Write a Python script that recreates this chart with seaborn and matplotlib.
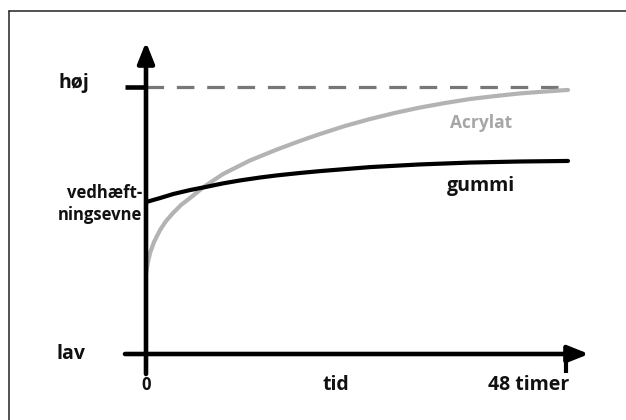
import numpy as np
import pandas as pd
import matplotlib
matplotlib.use("Agg")
import matplotlib.pyplot as plt
import seaborn as sns
from matplotlib.lines import Line2D

# adhesion over time, 0 = lav, 1 = høj
hours_acrylat = [0, 0.23, 0.46, 0.91, 1.6, 2.29, 3.09, 4.0, 5.03, 6.74, 8.8, 11.89, 14.97,
                 17.6, 19.89, 22.74, 25.6, 28.46, 31.31, 34.17, 37.03, 39.89, 42.74, 45.6, 48.23]
adh_acrylat = [0.30, 0.345, 0.378, 0.419, 0.464, 0.498, 0.528, 0.558, 0.584, 0.629, 0.674, 0.725,
               0.766, 0.798, 0.824, 0.854, 0.880, 0.903, 0.923, 0.940, 0.955, 0.966, 0.976, 0.983, 0.989]
hours_gummi = [0, 1.6, 3.09, 5.03, 6.74, 8.8, 10.74, 13.03, 14.97, 17.6, 19.89, 25.6, 31.31,
               37.03, 42.74, 48.23]
adh_gummi = [0.569, 0.584, 0.599, 0.614, 0.625, 0.639, 0.650, 0.661, 0.669, 0.678, 0.685, 0.700,
             0.710, 0.717, 0.721, 0.723]
max_level = 1.0
end_hours = 48

df_a = pd.DataFrame({"tid": hours_acrylat, "adh": adh_acrylat})
df_g = pd.DataFrame({"tid": hours_gummi, "adh": adh_gummi})

sns.set_style("white")
plt.rcParams["font.family"] = ["Open Sans", "DejaVu Sans"]

W, H = 626, 420
fig = plt.figure(figsize=(W / 100, H / 100), dpi=100)
# axes placed so that x=0 -> px 146, x=48 -> px 566, y=0 -> py 354, y=1 -> py 87
ax = fig.add_axes([146 / W, (H - 354) / H, 420 / W, 267 / H])
ax.set_xlim(0, end_hours)
ax.set_ylim(0, max_level)
ax.axis("off")

# frame (top and left edge only, like the cropped original)
top = (H - 11) / H
left = 9 / W
fig.add_artist(Line2D([left, 1.0], [top, top], transform=fig.transFigure, color="#222222", lw=1.1))
fig.add_artist(Line2D([left, left], [0.0, top], transform=fig.transFigure, color="#222222", lw=1.1))

px_x = end_hours / 420
px_y = max_level / 267

# dashed max line
ax.plot([0, 48.3], [max_level, max_level], ls=(0, (5.5, 4)), color="#777777", lw=2.3, clip_on=False)

sns.lineplot(data=df_a, x="tid", y="adh", ax=ax, color="#b3b3b3", lw=3.0, clip_on=False)
sns.lineplot(data=df_g, x="tid", y="adh", ax=ax, color="black", lw=3.0, clip_on=False)

# axes with arrows
arrow = dict(arrowstyle="-|>,head_length=1.25,head_width=0.5", lw=3.3, color="black",
             shrinkA=0, shrinkB=0, mutation_scale=10)
ax.annotate("", xy=(0, (354 - 42) * px_y), xytext=(0, -20 * px_y), arrowprops=arrow,
            annotation_clip=False)
ax.annotate("", xy=((589 - 146) * px_x, 0), xytext=(-21 * px_x, 0), arrowprops=arrow,
            annotation_clip=False)
ax.plot([-21 * px_x, 0], [max_level, max_level], color="black", lw=3.3, clip_on=False,
        solid_capstyle="butt")
ax.plot([end_hours, end_hours], [0, -19 * px_y], color="black", lw=3.0, clip_on=False,
        solid_capstyle="butt")

tk = dict(fontsize=14, fontweight="bold", color="#111111", clip_on=False)
ax.text(-88 * px_x, max_level + 4 * px_y, "høj", ha="left", va="center", **tk)
ax.text(-90 * px_x, 0, "lav", ha="left", va="center", **tk)
ax.text(0, -31 * px_y, "0", ha="center", va="center", fontsize=12, fontweight="bold",
        color="#111111")
ax.text(190 * px_x, -31 * px_y, "tid", ha="center", va="center", **tk)
ax.text(end_hours + 3 * px_x, -31 * px_y, "48 timer", ha="right", va="center", **tk)
ax.text(-4 * px_x, (354 - 204) * px_y, "vedhæft-\nningsevne", ha="right", va="center",
        fontsize=12, fontweight="bold", color="#111111", linespacing=1.35)
ax.text((481 - 146) * px_x, (354 - 123) * px_y, "Acrylat", ha="center", va="center",
        fontsize=12.5, fontweight="bold", color="#a6a6a6")
ax.text((481 - 146) * px_x, (354 - 186) * px_y, "gummi", ha="center", va="center", **tk)

fig.savefig("out.png", dpi=100)
